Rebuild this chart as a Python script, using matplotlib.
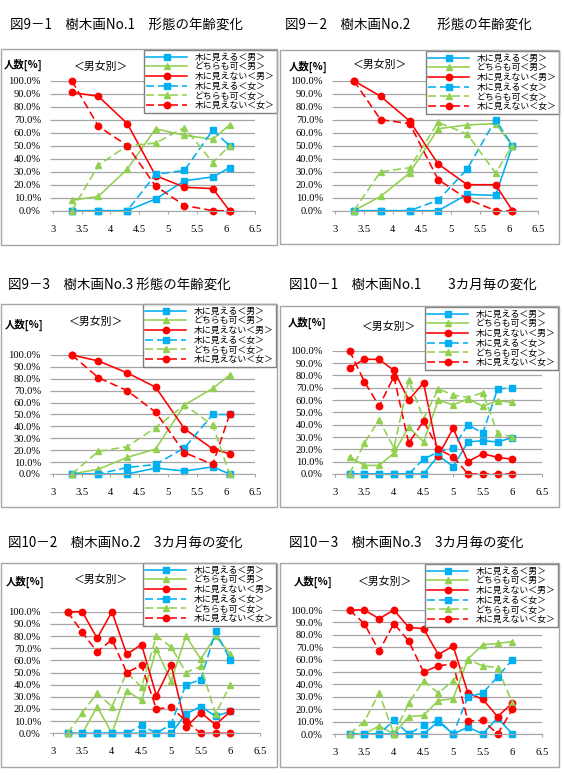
import numpy as np
import matplotlib
matplotlib.use('Agg')
import matplotlib.pyplot as plt
from matplotlib.patches import Rectangle

plt.rcParams['font.family'] = ['Noto Sans CJK JP', 'DejaVu Sans']

W, H = 564, 775

# ages (x axis)
age_9 = [3.33, 3.79, 4.29, 4.78, 5.28, 5.77, 6.06]
age_10 = [3.25, 3.5, 3.75, 4.0, 4.25, 4.5, 4.75, 5.0, 5.25, 5.5, 5.75, 6.0]

series_names = ['木に見える＜男＞', 'どちらも可＜男＞', '木に見えない＜男＞',
                '木に見える＜女＞', 'どちらも可＜女＞', '木に見えない＜女＞']

titles = ['図9－1　樹木画No.1　形態の年齢変化',
          '図9－2　樹木画No.2　　形態の年齢変化',
          '図9－3　樹木画No.3 形態の年齢変化',
          '図10－1　樹木画No.1　　3カ月毎の変化',
          '図10－2　樹木画No.2　3カ月毎の変化',
          '図10－3　樹木画No.3　3カ月毎の変化']

y_ticks = [0, 10, 20, 30, 40, 50, 60, 70, 80, 90, 100]
x_ticks = [3, 3.5, 4, 4.5, 5, 5.5, 6, 6.5]

# 図9-1 (%)
f91_see_m = [0, 0, 0, 9, 23, 26, 33]
f91_either_m = [8, 11, 32, 63, 58, 55, 66]
f91_not_m = [91, 88, 67, 27, 18, 17, 0]
f91_see_f = [0, 0, 0, 28, 31, 62, 50]
f91_either_f = [0, 35, 50, 52, 64, 37, 50]
f91_not_f = [100, 65, 50, 19, 4, 0, 0]

# 図9-2
f92_see_m = [0, 0, 0, 0, 12.5, 11.8, 50]
f92_either_m = [0, 11, 29, 63, 66, 67, 50]
f92_not_m = [100, 88, 69, 36, 20, 20, 0]
f92_see_f = [0, 0, 0, 8, 32, 70, 50]
f92_either_f = [0, 30, 33, 68, 59, 29, 50]
f92_not_f = [100, 70, 67, 24, 9, 0, 0]

# 図9-3
f93_see_m = [0, 0, 0, 5, 2.5, 6, 0]
f93_either_m = [0, 4, 14, 21, 58, 72, 83]
f93_not_m = [100, 95, 85, 73, 38, 21, 17]
f93_see_f = [0, 0, 5.5, 8, 22, 50, 50]
f93_either_f = [0, 19, 23, 39, 58, 41, 0]
f93_not_f = [100, 81, 70, 52, 18, 8, 50]

# 図10-1
f101_see_m = [0, 0, 0, 0, 0, 0, 15, 6, 26, 27, 26, 29.5]
f101_either_m = [14, 7, 7, 17, 38, 26, 60, 56, 61, 55, 59.5, 58]
f101_not_m = [86, 93, 93, 84, 60, 74, 15, 37, 10, 16.5, 13.5, 12]
f101_see_f = [0, 0, 0, 0, 0, 12, 18, 21, 40, 33, 69, 70]
f101_either_f = [0, 25, 44, 21, 76, 45, 69, 64, 62, 66, 33, 30]
f101_not_f = [100, 75, 55, 79, 25, 43, 20, 14, 0, 0, 0, 0]

# 図10-2
f102_see_m = [0, 0, 0, 0, 0, 0, 0, 0, 16, 22, 14, 18]
f102_either_m = [0, 0, 22, 0, 35, 27, 69, 43, 80, 61, 80, 65]
f102_not_m = [100, 100, 78, 100, 65, 73, 31, 56, 5, 17, 7, 18]
f102_see_f = [0, 0, 0, 0, 0, 6.5, 0, 7.5, 40, 44, 84, 60]
f102_either_f = [0, 17, 33, 22, 50, 38, 80, 71, 50, 55, 16, 40]
f102_not_f = [100, 83, 67, 77, 50, 56, 20, 21.5, 10, 0, 0, 0]

# 図10-3
f103_see_m = [0, 0, 0, 0, 0, 0, 10, 0, 5.5, 0, 13, 0]
f103_either_m = [0, 0, 6.5, 0, 14, 15, 27, 28.5, 60.5, 72, 73, 74.5]
f103_not_m = [100, 100, 93, 100, 86, 85, 64, 71, 33, 28, 14, 25]
f103_see_f = [0, 0, 0, 11, 0, 7, 11, 0, 30, 33, 46, 60]
f103_either_f = [0, 10, 33, 0, 25, 43, 33, 43, 60, 55, 53.5, 25]
f103_not_f = [100, 89, 67, 89, 75, 50, 55, 56.5, 10.5, 11, 0, 20]

panels_data = [
    (age_9, [f91_see_m, f91_either_m, f91_not_m, f91_see_f, f91_either_f, f91_not_f]),
    (age_9, [f92_see_m, f92_either_m, f92_not_m, f92_see_f, f92_either_f, f92_not_f]),
    (age_9, [f93_see_m, f93_either_m, f93_not_m, f93_see_f, f93_either_f, f93_not_f]),
    (age_10, [f101_see_m, f101_either_m, f101_not_m, f101_see_f, f101_either_f, f101_not_f]),
    (age_10, [f102_see_m, f102_either_m, f102_not_m, f102_see_f, f102_either_f, f102_not_f]),
    (age_10, [f103_see_m, f103_either_m, f103_not_m, f103_see_f, f103_either_f, f103_not_f]),
]

# layout in pixels: title (x, y), frame (x0,y0,x1,y1), plot (x0,y0,x1,y1), legend (right, top),
# 人数 label center, 男女別 label center
layout = [
    dict(t=(10, 25), frame=(1, 49, 277, 245), plot=(52.7, 80.7, 255, 210.7), leg=(277, 50),
         l1=(23.5, 65), l2=(101.5, 67)),
    dict(t=(285, 25), frame=(280, 50, 559, 244), plot=(334.7, 80.7, 538, 210.7), leg=(559, 51),
         l1=(308, 67), l2=(380.5, 65)),
    dict(t=(8, 285), frame=(1, 304, 277, 507), plot=(52.7, 355, 255, 474), leg=(276, 304),
         l1=(24, 325), l2=(96, 322)),
    dict(t=(289, 285), frame=(280, 306, 559, 507), plot=(334.7, 350.7, 542, 474), leg=(558, 307),
         l1=(307, 323), l2=(389.5, 327)),
    dict(t=(8, 543), frame=(1, 563, 277, 767), plot=(52.7, 611.7, 260, 733.3), leg=(276, 563),
         l1=(25, 582), l2=(101.5, 580)),
    dict(t=(289, 543), frame=(280, 563, 559, 767), plot=(334.7, 610, 542, 734), leg=(558, 564),
         l1=(313, 582), l2=(385.5, 582)),
]

blue, green, red = '#00B0F0', '#92D050', '#FF0000'
styles = [(blue, '-', 's', 3.8), (green, '-', '^', 4.4), (red, '-', 'o', 4.6),
          (blue, '--', 's', 3.8), (green, '--', '^', 4.4), (red, '--', 'o', 4.6)]


def fx(x):
    return x / W


def fy(y):
    return 1 - y / H


fig = plt.figure(figsize=(W / 100, H / 100), dpi=100)

for (xs, data), title, lay in zip(panels_data, titles, layout):
    x0, y0, x1, y1 = lay['frame']
    fig.patches.append(Rectangle((fx(x0), fy(y1)), (x1 - x0) / W, (y1 - y0) / H,
                                 transform=fig.transFigure, fill=False, ec='#A6A6A6', lw=1))
    fig.text(fx(lay['t'][0]), fy(lay['t'][1]), title, fontsize=9.7, va='center', ha='left')
    fig.text(fx(lay['l1'][0]), fy(lay['l1'][1]), '人数[%]', fontsize=7.5, fontweight='bold',
             va='center', ha='center')
    fig.text(fx(lay['l2'][0]), fy(lay['l2'][1]), '＜男女別＞', fontsize=7.8,
             va='center', ha='center')

    px0, py0, px1, py1 = lay['plot']
    ax = fig.add_axes([fx(px0), fy(py1), (px1 - px0) / W, (py1 - py0) / H])
    for vals, name, (c, ls, mk, ms) in zip(data, series_names, styles):
        line, = ax.plot(xs, vals, color=c, ls=ls, marker=mk, ms=ms, lw=1.15,
                        clip_on=False, label=name)
        if ls == '--':
            line.set_dashes((5, 2.5))

    ax.set_xlim(3, 6.5)
    ax.set_ylim(0, 100)
    ax.set_yticks(y_ticks)
    ax.set_yticklabels(['%.1f%%' % v for v in y_ticks], family='Liberation Serif', fontsize=7.6)
    ax.set_xticks(x_ticks)
    ax.set_xticklabels(['%g' % v for v in x_ticks], family='Liberation Serif', fontsize=7.6)
    ax.grid(axis='y', color='#A6A6A6', lw=0.9)
    ax.set_axisbelow(True)
    for s in ['top', 'right', 'left']:
        ax.spines[s].set_visible(False)
    ax.spines['bottom'].set_color('#A6A6A6')
    ax.tick_params(axis='y', length=2.5, color='#A6A6A6', pad=6)
    ax.tick_params(axis='x', length=2.2, color='#A6A6A6', pad=8)
    ax.patch.set_alpha(0)

    leg = ax.legend(loc='upper right', bbox_to_anchor=(fx(lay['leg'][0]), fy(lay['leg'][1])),
                    bbox_transform=fig.transFigure, borderaxespad=0, fancybox=False,
                    edgecolor='#7F7F7F', framealpha=1, fontsize=6.4, handlelength=4.6,
                    labelspacing=0.08, borderpad=0.3, handletextpad=0.8)
    leg.get_frame().set_linewidth(1.0)

fig.savefig('out.png', dpi=100)
